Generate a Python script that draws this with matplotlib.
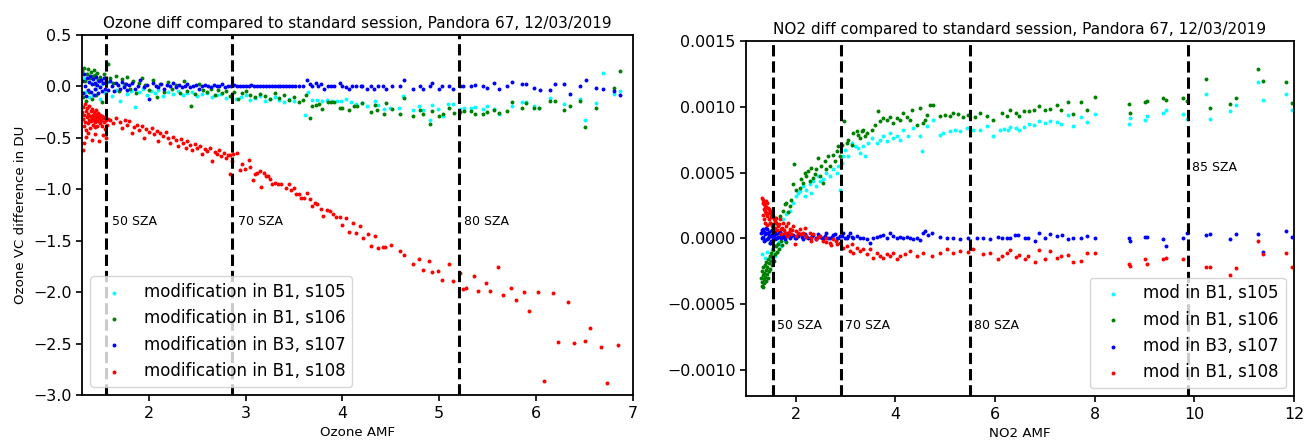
import matplotlib
matplotlib.use("Agg")
import matplotlib.pyplot as plt

# ---------------- Ozone panel data (AMF, VC difference in DU) ----------------
o3_s105 = [(1.32,0.08),(1.34,-0.05),(1.36,0.12),(1.38,-0.10),(1.40,0.03),(1.42,-0.08),(1.44,0.10),(1.46,-0.02),
           (1.48,0.06),(1.50,-0.12),(1.52,0.02),(1.55,-0.06),(1.58,0.04),(1.62,-0.09),(1.66,-0.03),(1.70,-0.14),
           (1.74,0.01),(1.78,-0.07),(1.82,-0.04),(1.86,-0.20),(1.90,-0.05),(1.94,-0.02),(1.98,-0.08),(2.02,-0.04),
           (2.06,-0.06),(2.10,-0.03),(2.15,-0.09),(2.20,-0.05),(2.25,-0.07),(2.30,-0.04),(2.35,-0.08),(2.40,-0.06),
           (2.45,-0.05),(2.50,-0.09),(2.55,-0.07),(2.60,-0.06),(2.65,-0.10),(2.70,-0.08),(2.75,-0.07),(2.80,-0.11),
           (2.85,-0.09),(2.90,-0.12),(2.95,-0.10),(3.00,-0.08),(3.05,-0.13),(3.10,-0.11),(3.15,-0.09),(3.20,-0.14),
           (3.25,-0.12),(3.30,-0.10),(3.35,-0.13),(3.40,-0.15),(3.45,-0.12),(3.50,-0.14),
           (3.61,-0.28),(3.64,-0.055),(3.69,-0.13),(3.74,-0.13),(3.79,-0.145),(3.84,-0.13),(3.89,-0.14),(3.94,-0.14),
           (3.99,-0.14),(4.04,-0.12),(4.085,-0.152),(4.14,-0.174),(4.20,-0.161),(4.25,-0.193),(4.34,-0.142),
           (4.37,-0.184),(4.43,-0.223),(4.49,-0.207),(4.58,-0.213),(4.63,-0.094),(4.73,-0.232),(4.79,-0.193),
           (4.83,-0.232),(4.90,-0.323),(4.92,-0.184),(4.99,-0.223),(5.04,-0.29),(5.09,-0.168),(5.14,-0.174),
           (5.21,-0.216),(5.26,-0.207),(5.33,-0.207),(5.37,-0.20),(5.45,-0.223),(5.49,-0.193),(5.57,-0.219),
           (5.62,-0.265),(5.75,-0.193),(5.85,-0.152),(5.90,-0.152),(5.98,-0.187),(6.03,-0.213),(6.14,-0.116),
           (6.29,-0.174),(6.45,-0.126),(6.51,-0.323),(6.62,-0.161),(6.69,0.129),(6.80,-0.071),(6.87,-0.045)]

o3_s106 = [(1.31,0.15),(1.32,-0.10),(1.33,0.18),(1.34,0.05),(1.35,-0.14),(1.36,0.12),(1.37,0.17),(1.38,-0.05),
           (1.39,0.08),(1.40,0.14),(1.41,-0.12),(1.42,0.10),(1.43,0.16),(1.44,0.02),(1.45,0.11),(1.46,-0.08),
           (1.47,0.13),(1.48,0.06),(1.50,0.09),(1.52,-0.15),(1.54,0.12),(1.56,0.04),(1.58,0.22),(1.60,0.08),
           (1.63,0.03),(1.66,0.10),(1.69,-0.04),(1.72,0.07),(1.75,0.02),(1.78,0.09),(1.81,-0.02),(1.84,0.05),
           (1.87,-0.06),(1.90,0.03),(1.93,0.08),(1.96,0.01),(2.00,-0.03),(2.04,0.06),(2.08,-0.10),(2.12,0.02),
           (2.16,-0.05),(2.20,0.04),(2.24,-0.02),(2.28,0.01),(2.32,-0.06),(2.36,0.05),(2.40,-0.04),(2.44,-0.19),
           (2.48,-0.07),(2.52,0.02),(2.56,-0.03),(2.60,-0.05),(2.64,-0.02),(2.68,-0.08),(2.72,-0.03),(2.76,-0.06),
           (2.80,-0.04),(2.84,-0.09),(2.88,-0.05),(2.92,-0.12),(2.96,-0.06),(3.00,-0.04),(3.05,-0.08),(3.10,-0.10),
           (3.15,-0.07),(3.20,-0.09),(3.25,-0.12),(3.30,-0.06),(3.35,-0.11),(3.40,-0.08),(3.45,-0.13),(3.50,-0.10),
           (3.55,-0.152),(3.59,-0.136),(3.62,-0.087),(3.66,-0.303),(3.69,-0.193),(3.73,-0.184),(3.76,-0.168),
           (3.79,-0.216),(3.85,-0.152),(3.88,-0.152),(3.91,-0.152),(3.97,-0.207),(4.00,-0.207),(4.07,-0.226),
           (4.12,-0.193),(4.15,-0.193),(4.20,-0.161),(4.29,-0.252),(4.34,-0.184),(4.36,-0.226),(4.43,-0.271),
           (4.45,-0.161),(4.51,-0.219),(4.59,-0.265),(4.64,-0.113),(4.73,-0.284),(4.80,-0.232),(4.83,-0.271),
           (4.90,-0.361),(4.93,-0.242),(5.00,-0.287),(5.04,-0.265),(5.10,-0.207),(5.15,-0.255),(5.21,-0.252),
           (5.26,-0.239),(5.33,-0.239),(5.37,-0.265),(5.45,-0.271),(5.49,-0.252),(5.57,-0.232),(5.62,-0.255),
           (5.70,-0.239),(5.75,-0.152),(5.85,-0.207),(5.90,-0.158),(5.98,-0.213),(6.03,-0.213),(6.14,-0.142),
           (6.19,-0.142),(6.29,-0.232),(6.35,-0.193),(6.45,-0.142),(6.51,-0.394),(6.62,-0.213),(6.80,-0.013),
           (6.87,0.149)]

o3_s107 = [(1.31,0.05),(1.32,-0.06),(1.33,0.12),(1.34,0.00),(1.35,-0.09),(1.36,0.08),(1.37,-0.03),(1.38,0.04),
           (1.39,0.10),(1.40,-0.05),(1.41,0.02),(1.42,0.07),(1.43,-0.08),(1.44,0.03),(1.45,-0.02),(1.46,0.09),
           (1.47,0.01),(1.48,-0.06),(1.49,0.05),(1.50,-0.01),(1.51,0.06),(1.52,-0.04),(1.53,0.03),(1.54,0.08),
           (1.55,-0.02),(1.56,0.04),(1.58,-0.03),(1.60,0.05),(1.62,0.00),(1.64,-0.04),(1.66,0.03),(1.68,0.01),
           (1.70,-0.02),(1.72,0.04),(1.74,-0.01),(1.76,0.02),(1.78,-0.03),(1.80,0.01),(1.83,0.03),(1.86,-0.02),
           (1.89,0.00),(1.91,0.06),(1.95,-0.01),(1.98,0.01),(2.00,-0.12),(2.04,0.03),(2.07,0.00),(2.10,-0.01),
           (2.13,0.02),(2.16,-0.02),(2.19,0.01),(2.22,0.00),(2.25,0.03),(2.28,-0.01),(2.31,0.01),(2.34,-0.01),
           (2.37,0.00),(2.40,0.02),(2.43,-0.01),(2.46,0.00),(2.49,0.01),(2.52,-0.02),(2.55,0.00),(2.58,0.01),
           (2.61,0.00),(2.64,-0.01),(2.67,0.01),(2.70,0.00),(2.73,0.00),(2.76,0.02),(2.79,-0.01),(2.82,0.00),
           (2.85,0.00),(2.88,0.01),(2.91,0.00),(2.94,0.00),(2.97,0.00),(3.00,0.00),(3.03,0.00),(3.06,0.01),
           (3.09,0.00),(3.12,0.00),(3.15,0.00),(3.18,0.00),(3.21,0.00),(3.24,0.00),(3.27,0.00),(3.30,0.00),
           (3.33,0.00),(3.36,0.00),(3.39,0.00),(3.42,0.00),(3.45,0.00),(3.48,0.00),(3.51,0.00),
           (3.555,0.0),(3.59,0.0),(3.63,0.058),(3.67,0.019),(3.69,0.0),(3.73,0.032),(3.75,0.0),(3.78,0.019),
           (3.81,-0.023),(3.85,0.0),(3.88,0.0),(3.91,0.0),(3.97,0.032),(4.00,0.0),(4.04,-0.006),(4.07,-0.026),
           (4.10,0.0),(4.14,0.0),(4.19,0.0),(4.20,0.0),(4.25,-0.026),(4.29,0.0),(4.33,-0.026),(4.37,0.0),
           (4.42,0.0),(4.45,-0.026),(4.51,0.0),(4.59,0.0),(4.64,0.058),(4.73,-0.026),(4.80,0.0),(4.83,-0.026),
           (4.90,0.0),(4.93,0.035),(5.00,-0.026),(5.03,0.0),(5.10,0.0),(5.14,-0.026),(5.21,0.0),(5.25,0.0),
           (5.33,0.0),(5.37,0.01),(5.45,0.0),(5.49,-0.016),(5.57,0.035),(5.62,-0.026),(5.70,0.0),(5.75,0.048),
           (5.85,0.019),(5.90,0.019),(5.98,-0.013),(6.04,-0.035),(6.14,-0.032),(6.19,0.019),(6.29,0.019),
           (6.35,-0.071),(6.45,0.0),(6.52,0.058),(6.62,-0.013),(6.69,-0.023),(6.80,-0.045),(6.87,-0.084)]

o3_s108 = [(1.31,-0.25),(1.32,-0.32),(1.32,-0.20),(1.33,-0.38),(1.33,-0.28),(1.34,-0.17),(1.34,-0.35),(1.35,-0.24),
           (1.35,-0.42),(1.36,-0.30),(1.36,-0.21),(1.37,-0.36),(1.37,-0.27),(1.38,-0.33),(1.38,-0.19),(1.39,-0.40),
           (1.39,-0.29),(1.40,-0.24),(1.40,-0.34),(1.41,-0.31),(1.41,-0.22),(1.42,-0.37),(1.42,-0.28),(1.43,-0.33),
           (1.43,-0.25),(1.44,-0.30),(1.44,-0.39),(1.45,-0.27),(1.45,-0.35),(1.46,-0.23),(1.46,-0.32),(1.47,-0.29),
           (1.47,-0.38),(1.48,-0.26),(1.48,-0.34),(1.49,-0.31),(1.50,-0.28),(1.50,-0.36),(1.51,-0.33),(1.52,-0.29),
           (1.52,-0.38),(1.53,-0.31),(1.54,-0.35),(1.55,-0.30),(1.55,-0.41),(1.56,-0.33),(1.57,-0.37),(1.58,-0.32),
           (1.32,-0.62),(1.33,-0.55),(1.35,-0.49),(1.37,-0.45),(1.41,-0.52),(1.45,-0.46),(1.49,-0.53),(1.53,-0.47),
           (1.56,-0.50),
           (1.60,-0.33),(1.63,-0.36),(1.66,-0.31),(1.70,-0.35),(1.72,-0.40),(1.75,-0.33),(1.78,-0.37),(1.80,-0.34),
           (1.83,-0.45),(1.85,-0.39),(1.88,-0.37),(1.90,-0.42),(1.93,-0.38),(1.95,-0.50),(1.97,-0.41),(2.00,-0.44),
           (2.03,-0.40),(2.05,-0.46),(2.08,-0.43),(2.10,-0.53),(2.12,-0.45),(2.15,-0.48),(2.18,-0.44),(2.20,-0.50),
           (2.22,-0.55),(2.25,-0.49),(2.28,-0.52),(2.30,-0.58),(2.33,-0.51),(2.35,-0.55),(2.38,-0.60),(2.40,-0.53),
           (2.43,-0.57),(2.45,-0.62),(2.48,-0.56),(2.50,-0.60),(2.53,-0.58),(2.55,-0.66),(2.58,-0.61),(2.60,-0.63),
           (2.63,-0.60),(2.65,-0.72),(2.68,-0.64),(2.70,-0.66),(2.73,-0.62),(2.75,-0.68),(2.78,-0.65),(2.80,-0.70),
           (2.82,-0.67),
           (2.84,-0.67),(2.87,-0.66),(2.91,-0.65),(2.855,-0.72),(2.84,-0.85),(2.96,-0.75),(2.94,-0.81),(2.99,-0.80),
           (3.03,-0.71),(3.05,-0.78),(3.08,-0.91),(3.10,-0.85),(3.12,-0.84),(3.15,-0.82),(3.16,-0.98),(3.19,-0.84),
           (3.21,-0.87),(3.23,-0.87),(3.25,-0.90),(3.27,-0.95),(3.30,-0.94),(3.33,-0.95),(3.37,-0.95),(3.42,-0.99),
           (3.45,-0.95),(3.47,-1.01),(3.50,-0.99),(3.52,-1.05),(3.55,-1.05),(3.57,-1.08),(3.60,-1.08),(3.63,-1.04),
           (3.66,-1.09),(3.69,-1.16),(3.72,-1.13),(3.74,-1.14),(3.78,-1.19),(3.80,-1.26),(3.84,-1.20),(3.87,-1.21),
           (3.90,-1.24),(3.93,-1.27),(3.97,-1.27),(4.00,-1.35),(4.04,-1.28),(4.07,-1.41),(4.11,-1.33),(4.14,-1.42),
           (4.18,-1.36),(4.21,-1.47),(4.26,-1.43),(4.29,-1.55),(4.34,-1.45),(4.37,-1.57),(4.42,-1.56),(4.44,-1.56),
           (4.50,-1.54),(4.59,-1.60),(4.64,-1.64),(4.73,-1.73),(4.79,-1.68),(4.83,-1.78),(4.89,-1.70),(4.93,-1.80),
           (4.99,-1.79),(5.03,-1.88),(5.10,-1.73),(5.14,-1.89),(5.21,-1.81),(5.25,-1.97),
           (5.28,-1.96),(5.36,-1.84),(5.40,-1.99),(5.48,-1.91),(5.52,-1.99),(5.61,-1.75),(5.66,-2.03),(5.74,-1.96),
           (5.79,-2.08),(5.88,-2.00),(5.93,-2.18),(6.02,-2.00),(6.08,-2.86),(6.17,-2.01),(6.23,-2.48),(6.33,-2.09),
           (6.39,-2.49),(6.50,-2.47),(6.56,-2.35),(6.67,-2.53),(6.73,-2.88),(6.85,-2.51)]

# ---------------- NO2 panel data (AMF, difference) ----------------
no2_s105 = [(1.33,-0.00012),(1.38,-0.00015),(1.42,-0.00010),(1.47,-0.00016),(1.52,-0.00008),(1.56,-0.00013),
            (1.60,-0.00005),(1.63,-0.00010),(1.66,-0.00003),(1.70,-0.00006),(1.74,0.00002),(1.78,-0.00002),
            (1.578,-0.000134),(1.645,-0.000033),(1.712,0.000068),(1.745,0.000144),(1.812,0.000182),(1.879,0.000207),
            (1.946,0.00027),(2.013,0.000321),(2.047,0.000346),(2.080,0.000359),(2.147,0.000396),(2.181,0.000321),
            (2.214,0.000371),(2.281,0.000409),(2.315,0.000346),(2.348,0.000434),(2.415,0.000396),(2.449,0.000472),
            (2.482,0.000434),(2.549,0.000447),(2.616,0.000497),(2.683,0.000472),(2.750,0.000523),(2.818,0.000497),
            (2.851,0.000548),(2.885,0.000371),(2.918,0.000573),(2.952,0.000624),(2.985,0.000674),(3.052,0.000624),
            (3.119,0.000725),(3.186,0.000699),(3.253,0.000687),(3.287,0.000649),(3.354,0.000699),(3.388,0.000624),
            (3.455,0.000725),(3.522,0.000763),(3.622,0.000725),(3.689,0.00075),(3.756,0.000775),(3.823,0.000737),
            (3.890,0.0008),(3.957,0.000763),(4.024,0.000775),(4.091,0.00075),(4.158,0.000826),(4.258,0.000775),
            (4.359,0.000838),(4.493,0.000775),(4.527,0.000662),(4.627,0.000851),(4.761,0.000901),(4.895,0.000788),
            (4.962,0.0008),(5.096,0.000813),(5.197,0.000826),(5.297,0.000813),(5.431,0.000838),(5.565,0.000826),
            (5.699,0.000826),(5.833,0.000851),(5.967,0.00078),
            (6.10,0.000826),(6.17,0.000831),(6.25,0.000826),(6.31,0.000843),(6.42,0.000836),(6.48,0.000821),
            (6.59,0.000843),(6.68,0.000871),(6.79,0.000864),(6.88,0.000894),(7.00,0.000876),(7.11,0.000894),
            (7.24,0.000884),(7.32,0.000871),(7.47,0.000934),(7.57,0.000851),(7.73,0.000922),(7.84,0.000884),
            (8.01,0.000944),(8.68,0.000871),(8.71,0.000914),(9.01,0.000902),(9.06,0.000932),(9.38,0.000952),
            (9.44,0.000972),(9.78,0.000944),(9.85,0.000907),(10.23,0.001096),(10.32,0.000907),(10.72,0.000967),
            (10.84,0.001015),(11.28,0.001184),(11.38,0.001053),(11.85,0.001096),(11.96,0.000975)]

no2_s106 = [(1.31,-0.00030),(1.32,-0.00036),(1.33,-0.00025),(1.33,-0.00033),(1.34,-0.00028),(1.35,-0.00037),
            (1.35,-0.00022),(1.36,-0.00031),(1.37,-0.00026),(1.37,-0.00034),(1.38,-0.00020),(1.39,-0.00029),
            (1.40,-0.00024),(1.40,-0.00032),(1.41,-0.00018),(1.42,-0.00027),(1.43,-0.00022),(1.44,-0.00030),
            (1.45,-0.00016),(1.46,-0.00025),(1.47,-0.00019),(1.48,-0.00013),(1.49,-0.00023),(1.50,-0.00017),
            (1.51,-0.00011),(1.52,-0.00020),(1.53,-0.00014),(1.55,-0.00009),(1.56,-0.00017),(1.58,-0.00012),
            (1.60,-0.00006),(1.62,-0.00010),(1.64,-0.00004),(1.67,-0.00008),(1.70,-0.00002),(1.73,-0.00005),
            (1.76,0.00001),(1.80,-0.00003),
            (1.478,-0.000033),(1.545,0.000068),(1.611,0.000119),(1.679,0.000169),(1.745,0.000207),(1.779,0.000258),
            (1.812,0.00027),(1.846,0.0002),(1.879,0.000245),(1.913,0.000295),(1.946,0.000409),(1.960,0.000561),
            (2.013,0.000371),(2.080,0.000384),(2.114,0.000447),(2.147,0.000422),(2.181,0.000497),(2.214,0.000472),
            (2.248,0.00051),(2.281,0.000434),(2.315,0.000535),(2.348,0.00046),(2.382,0.000485),(2.415,0.000523),
            (2.449,0.000611),(2.482,0.000472),(2.516,0.000548),(2.549,0.000422),(2.583,0.000586),(2.616,0.000523),
            (2.650,0.000624),(2.683,0.000548),(2.750,0.000636),(2.784,0.000586),(2.818,0.000662),(2.851,0.000699),
            (2.885,0.000624),(2.918,0.000712),(2.965,0.000889),(3.019,0.000725),(3.052,0.00075),(3.119,0.000712),
            (3.153,0.0008),(3.220,0.000813),(3.253,0.000788),(3.287,0.000763),(3.320,0.000813),(3.354,0.000826),
            (3.388,0.000775),(3.421,0.0008),(3.522,0.000826),(3.589,0.000864),(3.656,0.00097),(3.689,0.000889),
            (3.756,0.000914),(3.823,0.000901),(3.890,0.000922),(3.957,0.000876),(4.024,0.000914),(4.091,0.000901),
            (4.158,0.000952),(4.225,0.000922),(4.292,0.000901),(4.325,0.000977),(4.426,0.000864),(4.493,0.00099),
            (4.560,0.000876),(4.594,0.000901),(4.627,0.000939),(4.694,0.001015),(4.761,0.001015),(4.895,0.000932),
            (4.996,0.000939),(5.096,0.000926),(5.163,0.000952),(5.263,0.000947),(5.364,0.000922),(5.465,0.000939),
            (5.599,0.000922),(5.699,0.000952),(5.833,0.000926),(5.967,0.000901),
            (6.13,0.000952),(6.23,0.000932),(6.31,0.000972),(6.42,0.000952),(6.48,0.000932),(6.59,0.000965),
            (6.68,0.000965),(6.79,0.000977),(6.88,0.001003),(7.00,0.000972),(7.11,0.000985),(7.24,0.001015),
            (7.32,0.000972),(7.47,0.001033),(7.57,0.000942),(7.73,0.001035),(7.84,0.000975),(8.01,0.001073),
            (8.68,0.001023),(8.71,0.000952),(9.01,0.001033),(9.06,0.001045),(9.38,0.001066),(9.44,0.001053),
            (9.78,0.001066),(9.85,0.001045),(10.23,0.001212),(10.32,0.000992),(10.72,0.001023),(10.84,0.001063),
            (11.28,0.001285),(11.38,0.001194),(11.85,0.001184),(11.96,0.001028)]

no2_s107 = [(1.310,0.000043),(1.330,0.000005),(1.344,0.000068),(1.364,-0.00002),(1.384,0.00003),(1.411,0.000081),
            (1.424,-0.000003),(1.444,0.000043),(1.464,0.000018),(1.478,-0.000033),(1.498,0.000056),(1.518,0.000023),
            (1.545,0.000005),(1.565,0.000043),(1.585,-0.000008),(1.611,0.00003),(1.645,0.000013),(1.679,0.000048),
            (1.712,0.000005),(1.745,0.00003),(1.779,-0.000003),(1.812,0.000038),(1.846,0.000018),(1.879,0.000005),
            (1.32,0.00006),(1.35,0.00001),(1.37,0.00005),(1.39,-0.00001),(1.40,0.00004),(1.43,0.00007),(1.45,0.0),
            (1.47,0.00005),(1.49,0.00002),(1.50,-0.00002),(1.53,0.00006),(1.55,0.00003),(1.57,0.00001),
            (1.59,0.00005),(1.62,0.0),(1.66,0.00004),(1.70,0.00002),(1.76,0.00001),(1.83,0.00003),(1.90,0.00002),
            (1.98,0.0),(2.05,0.00002),(2.12,0.00001),(2.18,0.00003),(2.25,0.0),(2.32,0.00002),(2.40,0.0),
            (2.45,0.00003),(2.52,0.0),(2.58,0.00002),(2.65,0.0),(2.72,0.00001),(2.78,0.00003),(2.85,0.0),
            (2.92,0.00002),(2.98,0.0),(3.05,0.00002),(3.12,0.00001),
            (1.946,0.000023),(2.013,0.000005),(2.080,0.00003),(2.147,-0.000003),(2.214,0.000018),(2.281,0.000005),
            (2.348,0.000023),(2.415,-0.000008),(2.482,0.000013),(2.549,0.000005),(2.616,0.000043),(2.683,0.000005),
            (2.750,0.000023),(2.818,0.000003),(2.885,0.000018),(2.952,0.000038),(3.019,0.000005),(3.086,0.000038),
            (3.153,0.000003),(3.220,0.000018),(3.287,0.000003),(3.354,0.000005),(3.421,-0.000008),(3.488,-0.000033),
            (3.555,0.000005),(3.622,0.000013),(3.689,0.000018),(3.756,0.000023),(3.823,0.000005),(3.890,0.000038),
            (3.957,0.000018),(4.024,0.000005),(4.091,0.000013),(4.158,0.000005),(4.225,0.000013),(4.292,0.000003),
            (4.359,-0.000008),(4.426,0.000005),(4.493,-0.000013),(4.560,0.000038),(4.594,0.000056),(4.661,0.000023),
            (4.728,0.000038),(4.895,0.000008),(5.029,0.000005),(5.163,0.000003),(5.297,-0.000003),(5.465,0.000005),
            (5.632,0.000003),(5.766,0.000003),(5.900,-0.000003),(6.068,0.000008),
            (6.13,0.000005),(6.23,0.000003),(6.30,0.000003),(6.40,0.000025),(6.47,0.000025),(6.60,0.000003),
            (6.67,0.000003),(6.80,-0.000018),(6.89,0.000043),(7.00,0.000003),(7.11,0.000035),(7.24,0.000018),
            (7.34,0.000023),(7.47,-0.000008),(7.57,0.000005),(7.73,0.000005),(7.84,0.000015),(8.01,0.000003),
            (8.68,0.000005),(8.71,-0.000018),(9.01,0.000013),(9.06,0.000013),(9.38,-0.000008),(9.44,-0.000058),
            (9.78,0.000003),(9.85,0.000038),(10.23,0.000023),(10.32,0.000035),(10.72,-0.000008),(10.84,0.000035),
            (11.28,0.000035),(11.38,-0.000104),(11.85,0.000053),(11.96,0.000013)]

no2_s108 = [(1.330,0.000308),(1.344,0.00027),(1.357,0.00022),(1.377,0.000245),(1.397,0.000194),(1.411,0.000283),
            (1.424,0.000169),(1.444,0.000232),(1.464,0.000144),(1.478,0.000207),(1.491,0.000119),(1.511,0.000182),
            (1.531,0.000093),(1.545,0.000169),(1.578,0.000131),(1.611,0.000157),(1.645,0.000093),(1.679,0.000144),
            (1.712,0.000068),(1.745,0.000119),(1.779,0.000043),(1.812,0.000093),(1.846,0.000119),(1.879,0.000068),
            (1.913,0.00003),(1.946,0.000093),(1.980,-0.000045),(2.013,0.000056),(2.080,0.000068),(2.114,0.00003),
            (2.147,0.000043),(2.181,0.000081),(2.214,0.000018),(2.281,0.000043),(2.315,0.000005),(2.348,0.00003),
            (2.415,-0.000008),(2.482,0.000018),(2.549,-0.00002),(2.616,0.000005),(2.683,-0.000033),(2.750,-0.000008),
            (2.818,-0.000045),(2.885,-0.000033),(2.952,-0.000071),(3.019,-0.000058),(3.086,-0.000096),
            (3.119,-0.000045),(3.153,-0.000109),(3.220,-0.000071),(3.287,-0.000096),(3.354,-0.000083),
            (3.421,-0.000121),(3.488,-0.000083),(3.555,-0.000146),(3.622,-0.000109),(3.689,-0.000134),
            (3.756,-0.000146),(3.823,-0.000121),(3.890,-0.000134),(3.957,-0.000109),(4.024,-0.000159),
            (4.091,-0.000134),(4.191,-0.000121),(4.292,-0.000096),(4.426,-0.000134),(4.560,-0.000114),
            (4.728,-0.000134),(4.895,-0.000109),(5.029,-0.000083),(5.163,-0.000114),(5.297,-0.000096),
            (5.465,-0.000104),(5.565,-0.000083),(5.766,-0.000121),(5.900,-0.000114),(6.068,-0.000159),
            (1.34,0.00018),(1.35,0.00029),(1.36,0.00015),(1.37,0.00026),(1.38,0.00012),(1.39,0.00021),
            (1.40,0.00024),(1.42,0.00010),(1.43,0.00027),(1.45,0.00019),(1.46,0.00022),(1.48,0.00012),
            (1.50,0.00016),(1.52,0.00020),(1.54,0.00011),(1.56,0.00015),(1.58,0.00008),(1.60,0.00012),
            (1.63,0.00006),(1.66,0.00011),(1.70,0.00003),(1.73,0.00008),(1.77,0.00006),(1.82,0.00002),
            (1.86,0.00005),(1.93,0.00006),(2.00,0.00002),(2.05,0.00004),(2.20,0.00001),(2.30,-0.00002),
            (2.45,0.00001),(2.60,-0.00003),(2.70,-0.00005),(2.80,-0.00002),
            (6.13,-0.000134),(6.23,-0.000114),(6.30,-0.000088),(6.42,-0.000139),(6.48,-0.000129),(6.60,-0.000159),
            (6.67,-0.000134),(6.80,-0.000179),(6.89,-0.000088),(7.00,-0.000159),(7.11,-0.000098),(7.24,-0.000149),
            (7.32,-0.000134),(7.47,-0.000124),(7.57,-0.000179),(7.73,-0.000169),(7.84,-0.000109),(8.01,-0.000109),
            (8.68,-0.000197),(8.71,-0.00021),(9.01,-0.000159),(9.06,-0.000197),(9.38,-0.000159),(9.44,-0.000146),
            (9.78,-0.000159),(10.23,-0.000217),(10.32,-0.000217),(10.72,-0.00028),(10.84,-0.000227),
            (11.28,-0.000018),(11.38,-0.000121),(11.85,-0.000109),(11.96,-0.000217)]

series_colors = ["cyan", "green", "blue", "red"]
o3_labels = ["modification in B1, s105", "modification in B1, s106",
             "modification in B3, s107", "modification in B1, s108"]
no2_labels = ["mod in B1, s105", "mod in B1, s106", "mod in B3, s107", "mod in B1, s108"]

o3_sza_amf = [1.556, 2.86, 5.20]
o3_sza_text = ["50 SZA", "70 SZA", "80 SZA"]
no2_sza_amf = [1.54, 2.90, 5.50, 9.87]
no2_sza_text = ["50 SZA", "70 SZA", "80 SZA", "85 SZA"]

fig = plt.figure(figsize=(13.11, 4.43), dpi=100)
ax1 = fig.add_axes([0.0625, 0.108, 0.4203, 0.813])
ax2 = fig.add_axes([0.569, 0.105, 0.418, 0.803])

MS = 8
for ax, groups, labels in ((ax1, [o3_s105, o3_s106, o3_s107, o3_s108], o3_labels),
                           (ax2, [no2_s105, no2_s106, no2_s107, no2_s108], no2_labels)):
    for pts, col, lab in zip(groups, series_colors, labels):
        xs = [p[0] for p in pts]
        ys = [p[1] for p in pts]
        ax.scatter(xs, ys, s=MS, c=col, label=lab, linewidths=0)

for amf, txt in zip(o3_sza_amf, o3_sza_text):
    ax1.axvline(amf, color="k", ls="--", lw=2.2)
    ax1.text(amf + 0.06, -1.31, txt, fontsize=9, va="center")
for amf, txt, ty in zip(no2_sza_amf, no2_sza_text, [-0.00066, -0.00066, -0.00066, 0.00054]):
    ax2.axvline(amf, color="k", ls="--", lw=2.2)
    ax2.text(amf + 0.08, ty, txt, fontsize=9, va="center")

ax1.set_xlim(1.31, 7.0)
ax1.set_ylim(-3.0, 0.5)
ax2.set_xlim(1.0, 12.0)
ax2.set_ylim(-0.0012, 0.0015)
ax2.set_yticks([-0.0010, -0.0005, 0.0, 0.0005, 0.0010, 0.0015])
ax2.set_yticklabels(["\u22120.0010", "\u22120.0005", "0.0000", "0.0005", "0.0010", "0.0015"])

ax1.set_title("Ozone diff compared to standard session, Pandora 67, 12/03/2019", fontsize=11, pad=5)
ax2.set_title("NO2 diff compared to standard session, Pandora 67, 12/03/2019", fontsize=11, pad=5)
ax1.set_xlabel("Ozone AMF", fontsize=9.6)
ax1.set_ylabel("Ozone VC difference in DU", fontsize=9.6)
ax2.set_xlabel("NO2 AMF", fontsize=9.6)

for ax in (ax1, ax2):
    ax.tick_params(labelsize=11.4, width=1.2, length=4)
    for sp in ax.spines.values():
        sp.set_linewidth(1.3)

ax1.legend(loc="lower left", fontsize=12, scatterpoints=1)
ax2.legend(loc="lower right", fontsize=12, scatterpoints=1)

fig.savefig("out.png", dpi=100)
